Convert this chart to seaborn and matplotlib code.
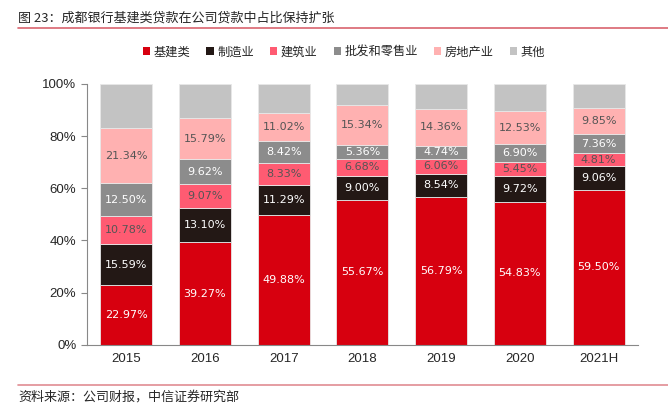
import numpy as np
import pandas as pd
import seaborn as sns
import matplotlib.pyplot as plt
from matplotlib.patches import Patch
from matplotlib.lines import Line2D

years = ['2015', '2016', '2017', '2018', '2019', '2020', '2021H']
infra = [22.97, 39.27, 49.88, 55.67, 56.79, 54.83, 59.50]
manuf = [15.59, 13.10, 11.29, 9.00, 8.54, 9.72, 9.06]
construct = [10.78, 9.07, 8.33, 6.68, 6.06, 5.45, 4.81]
wholesale = [12.50, 9.62, 8.42, 5.36, 4.74, 6.90, 7.36]
realestate = [21.34, 15.79, 11.02, 15.34, 14.36, 12.53, 9.85]
names = ['基建类', '制造业', '建筑业', '批发和零售业', '房地产业', '其他']
colors = ['#D7000F', '#231815', '#FF5B72', '#8C8C8C', '#FFB1B1', '#C3C3C3']
label_colors = ['white', 'white', '#555555', 'white', '#555555', None]

series = [infra, manuf, construct, wholesale, realestate]
# 其他 = 剩余部分
other = [100 - sum(v) for v in zip(*series)]
series.append(other)

sns.set_style('white')
plt.rcParams['font.family'] = ['Noto Sans CJK SC', 'DejaVu Sans']

fig = plt.figure(figsize=(6.68, 4.13), dpi=100)
ax = fig.add_axes([0.130, 0.165, 0.825, 0.632])

bottom = np.zeros(len(years))
for name, vals, c, lc in zip(names, series, colors, label_colors):
    df = pd.DataFrame({'year': years, 'v': vals})
    sns.barplot(data=df, x='year', y='v', color=c, bottom=bottom, width=0.66,
                edgecolor='#e8e8e8', linewidth=0.6, ax=ax, saturation=1)
    if lc is not None:
        for i, v in enumerate(vals):
            ax.text(i, bottom[i] + v / 2, f'{v:.2f}%', ha='center', va='center',
                    color=lc, fontsize=8, family=['DejaVu Sans'])
    bottom = bottom + np.array(vals)

ax.set_ylim(0, 100)
ax.set_xlim(-0.5, 6.5)
ax.set_yticks(range(0, 101, 20))
ax.set_yticklabels([f'{t}%' for t in range(0, 101, 20)], fontsize=9.5, family=['Liberation Sans'])
ax.set_xticks(range(len(years)))
ax.set_xticklabels(years, fontsize=9.5, family=['Liberation Sans'])
ax.set_xticks(np.arange(-0.5, 7, 1), minor=True)
ax.tick_params(axis='x', which='major', length=0, pad=6)
ax.tick_params(axis='x', which='minor', length=4, color='#888888', direction='out')
ax.tick_params(axis='y', length=4, color='#888888', direction='out', left=True)
ax.set_xlabel('')
ax.set_ylabel('')
for s in ['top', 'right']:
    ax.spines[s].set_visible(False)
for s in ['left', 'bottom']:
    ax.spines[s].set_color('#888888')
    ax.spines[s].set_linewidth(0.8)

handles = [Patch(facecolor=c, edgecolor='none') for c in colors]
fig.legend(handles, names, loc='center', bbox_to_anchor=(0.515, 0.874), ncol=6,
           frameon=False, fontsize=8.8, handlelength=0.6, handleheight=0.6,
           handletextpad=0.3, columnspacing=1.3)

fig.text(0.027, 0.957, '图 23：成都银行基建类贷款在公司贷款中占比保持扩张', fontsize=9.4, va='center')
fig.add_artist(Line2D([0.027, 1.0], [0.932, 0.932], color='#D9646E', linewidth=1.2))
fig.add_artist(Line2D([0.027, 1.0], [0.068, 0.068], color='#E08C92', linewidth=1.2))
fig.text(0.027, 0.038, '资料来源：公司财报，中信证券研究部', fontsize=9.4, va='center')

fig.savefig('out.png', dpi=100)
